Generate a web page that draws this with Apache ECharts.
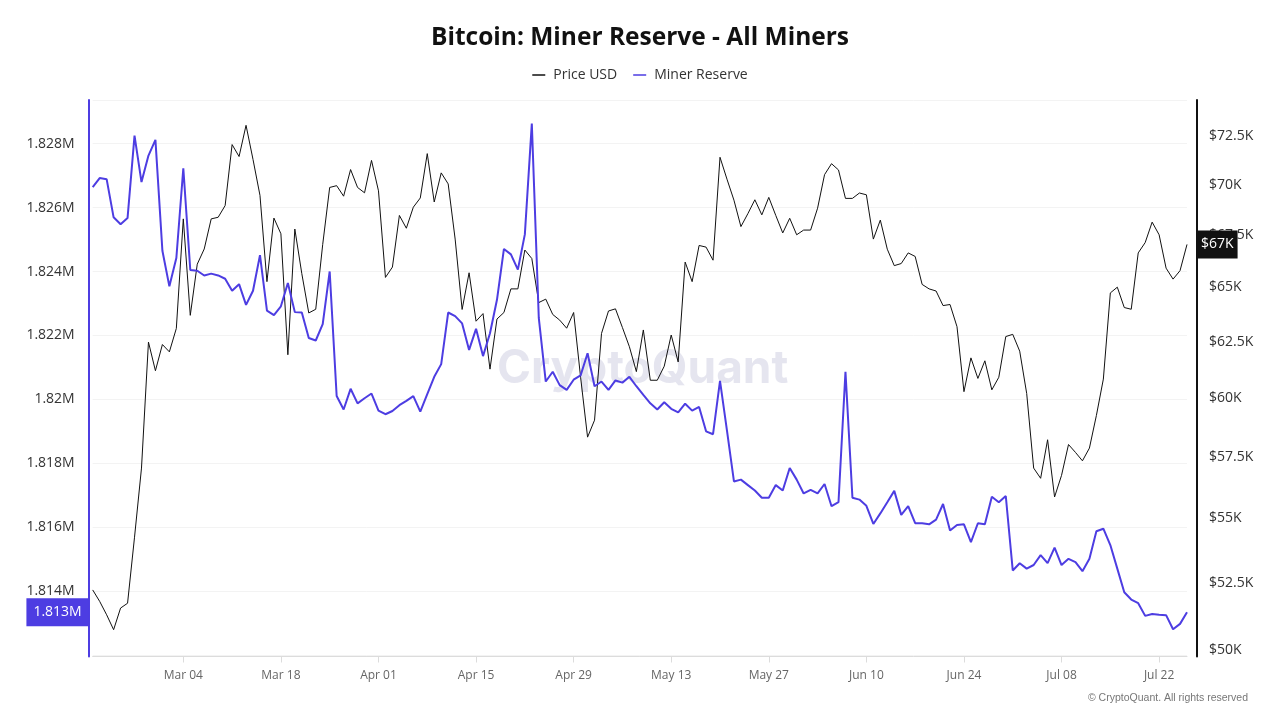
<!DOCTYPE html>
<html>
<head>
<meta charset="utf-8">
<script src="https://cdn.jsdelivr.net/npm/echarts@6/dist/echarts.min.js"></script>
<style>
html,body{margin:0;padding:0;background:#fff;}
#chart{width:1280px;height:720px;}
</style>
</head>
<body>
<div id="chart"></div>
<script>
// ---- data ----
const startDate = '2024-02-20';
const dayCount = 158;
const priceUSD = [52230, 51800, 51300, 50750, 51550, 51730, 54260, 57040, 62480, 61200,
  62370, 62040, 63100, 68300, 63700, 66100, 66830, 68300, 68380, 68960,
  72070, 71450, 73080, 71300, 69470, 65270, 68340, 67570, 61910, 67800,
  65650, 63810, 63980, 67050, 69870, 69960, 69430, 70780, 69870, 69600,
  71250, 69700, 65470, 65960, 68470, 67840, 68880, 69340, 71600, 69140,
  70610, 70050, 67310, 63970, 65690, 63430, 63780, 61270, 63530, 63830,
  64930, 64930, 66780, 66370, 64290, 64450, 63740, 63480, 63110, 63830,
  60910, 58330, 59050, 62870, 63900, 64000, 63140, 62270, 61160, 63030,
  60780, 60780, 61400, 62800, 61590, 66200, 65270, 67000, 66920, 66290,
  71410, 70290, 69230, 67920, 68560, 69250, 68500, 69370, 68470, 67610,
  68330, 67520, 67750, 67750, 68830, 70520, 71080, 70760, 69320, 69320,
  69590, 69500, 67310, 68240, 66820, 66030, 66130, 66640, 66470, 65140,
  64930, 64830, 64150, 64200, 63180, 60280, 61770, 60860, 61640, 60360,
  60910, 62730, 62830, 62070, 60200, 57040, 56620, 58220, 55860, 56740,
  58020, 57690, 57340, 57870, 59250, 60830, 64740, 65010, 64060, 63980,
  66640, 67140, 68140, 67520, 65910, 65390, 65790, 67050];
const minerReserve = [1826637, 1826921, 1826887, 1825695, 1825479, 1825672, 1828250, 1826796, 1827625, 1828114,
  1824650, 1823537, 1824422, 1827228, 1824048, 1824025, 1823877, 1823934, 1823877, 1823775,
  1823400, 1823605, 1822958, 1823400, 1824513, 1822776, 1822640, 1822912, 1823639, 1822731,
  1822719, 1821924, 1821844, 1822356, 1824002, 1820107, 1819687, 1820334, 1819880, 1820039,
  1820186, 1819653, 1819539, 1819641, 1819823, 1819959, 1820107, 1819619, 1820164, 1820709,
  1821106, 1822719, 1822605, 1822378, 1821549, 1822208, 1821356, 1822071, 1823116, 1824706,
  1824536, 1824059, 1825161, 1828625, 1822549, 1820561, 1820868, 1820448, 1820300, 1820618,
  1820754, 1821447, 1820414, 1820561, 1820300, 1820595, 1820527, 1820709, 1820414, 1820141,
  1819880, 1819687, 1819914, 1819710, 1819596, 1819869, 1819653, 1819766, 1819005, 1818914,
  1820584, 1819028, 1817438, 1817495, 1817324, 1817154, 1816927, 1816927, 1817324, 1817154,
  1817858, 1817495, 1817063, 1817177, 1817063, 1817358, 1816665, 1816790, 1820868, 1816927,
  1816870, 1816677, 1816109, 1816439, 1816790, 1817143, 1816393, 1816665, 1816132, 1816132,
  1816098, 1816245, 1816734, 1815905, 1816075, 1816098, 1815541, 1816132, 1816098, 1816961,
  1816790, 1816983, 1814656, 1814883, 1814712, 1814826, 1815133, 1814883, 1815371, 1814826,
  1815019, 1814917, 1814633, 1815019, 1815882, 1815961, 1815450, 1814712, 1813974, 1813747,
  1813633, 1813236, 1813293, 1813270, 1813259, 1812816, 1812986, 1813349];
const priceTicks = [50000, 52500, 55000, 57500, 60000, 62500, 65000, 67500, 70000, 72500];
const reserveTicks = [1814000, 1816000, 1818000, 1820000, 1822000, 1824000, 1826000, 1828000];
const reserveRange = [1811966, 1829362];
const priceRange = [49776, 74430];
const monthNames = ['Jan','Feb','Mar','Apr','May','Jun','Jul','Aug','Sep','Oct','Nov','Dec'];

// category dates (daily)
const dates = [];
const t0 = Date.parse(startDate + 'T00:00:00Z');
for (let i = 0; i < dayCount; i++) {
  dates.push(new Date(t0 + i * 86400000).toISOString().slice(0, 10));
}
const fmtDate = s => { const d = new Date(s + 'T00:00:00Z'); return monthNames[d.getUTCMonth()] + ' ' + String(d.getUTCDate()).padStart(2, '0'); };
const firstLabelIdx = 13, labelStep = 14;
const showIdx = i => (i - firstLabelIdx) % labelStep === 0 && i >= firstLabelIdx;

const log10 = Math.log10;
const priceLog = priceUSD.map(v => log10(v));
const lastPrice = priceUSD[priceUSD.length - 1];
const lastReserve = minerReserve[minerReserve.length - 1];

const FONT = '"Open Sans", "Noto Sans", sans-serif';
const BLUE = '#4d3de2';

const chart = echarts.init(document.getElementById('chart'), null, {renderer: 'canvas'});
chart.setOption({
  animation: false,
  backgroundColor: '#ffffff',
  textStyle: {fontFamily: FONT},
  title: {
    text: 'Bitcoin: Miner Reserve - All Miners',
    left: 'center', top: 21,
    textStyle: {fontSize: 24.5, fontWeight: 'bold', color: '#111', fontFamily: FONT}
  },
  legend: {
    top: 63, left: 'center',
    icon: 'rect', itemWidth: 13, itemHeight: 1.5, itemGap: 16,
    textStyle: {fontSize: 14, color: '#333', fontFamily: FONT, padding: [0, 0, 0, 3]},
    data: ['Price USD', 'Miner Reserve']
  },
  axisPointer: {triggerOn: 'none'},
  grid: {left: 92.7, right: 93, top: 100, bottom: 63.5, containLabel: false},
  xAxis: {
    type: 'category',
    data: dates,
    boundaryGap: false,
    axisLine: {lineStyle: {color: '#dcdcdc', width: 1}},
    axisTick: {show: true, interval: (i) => showIdx(i), length: 6, lineStyle: {color: '#dcdcdc'}},
    axisLabel: {interval: (i) => showIdx(i), formatter: v => fmtDate(v), color: '#666', fontSize: 12, margin: 13, fontFamily: FONT},
    splitLine: {show: false}
  },
  yAxis: [
    {
      type: 'value', position: 'left', offset: 4,
      min: reserveRange[0], max: reserveRange[1], splitNumber: 8,
      axisLine: {show: true, lineStyle: {color: BLUE, width: 2}},
      axisTick: {show: false},
      axisLabel: {color: '#333', fontSize: 14, margin: 14, fontFamily: FONT,
        customValues: reserveTicks,
        formatter: v => parseFloat((v / 1e6).toFixed(3)) + 'M'},
      splitLine: {show: true, lineStyle: {color: '#f3f3f3', width: 1}},
      axisPointer: {
        show: true, type: 'line', value: lastReserve, status: 'show', triggerTooltip: false,
        lineStyle: {opacity: 0, width: 0},
        label: {show: true, backgroundColor: BLUE, color: '#fff', fontSize: 14, margin: 0,
          padding: [7, 7, 7, 7], borderRadius: 0, fontFamily: FONT,
          formatter: p => (p.value / 1e6).toFixed(3) + 'M'}
      }
    },
    {
      type: 'value', position: 'right', offset: 10,
      min: log10(priceRange[0]), max: log10(priceRange[1]),
      axisLine: {show: true, lineStyle: {color: '#111', width: 2}},
      axisTick: {show: false},
      axisLabel: {color: '#333', fontSize: 14, margin: 12, fontFamily: FONT,
        customValues: priceTicks.map(v => log10(v)),
        formatter: v => '$' + parseFloat((Math.pow(10, v) / 1000).toFixed(1)) + 'K'},
      splitLine: {show: false},
      axisPointer: {
        show: true, type: 'line', value: log10(lastPrice), status: 'show', triggerTooltip: false,
        lineStyle: {opacity: 0, width: 0},
        label: {show: true, backgroundColor: '#111', color: '#fff', fontSize: 14, margin: 0,
          padding: [7, 4, 7, 4], borderRadius: 0, fontFamily: FONT,
          formatter: p => '$' + Math.round(Math.pow(10, p.value) / 1000) + 'K'}
      }
    }
  ],
  graphic: [
    {type: 'text', left: 497, top: 346, z: -10, silent: true,
      style: {text: 'CryptoQuant', fontSize: 46, fontWeight: 'bold', fontFamily: '"Inter", "Open Sans", sans-serif', fill: 'rgba(208,208,225,0.55)'}},
    {type: 'text', right: 32, top: 693, silent: true,
      style: {text: '\u00a9 CryptoQuant. All rights reserved', fontSize: 10.5, fontFamily: '"Liberation Sans", Arial, sans-serif', fill: '#777'}}
  ],
  series: [
    {
      name: 'Price USD', type: 'line', yAxisIndex: 1, data: priceLog,
      symbol: 'none', color: '#111', lineStyle: {width: 1, color: '#111'}, z: 2
    },
    {
      name: 'Miner Reserve', type: 'line', yAxisIndex: 0, data: minerReserve,
      symbol: 'none', color: BLUE, lineStyle: {width: 2, color: BLUE}, z: 3
    }
  ]
});
</script>
</body>
</html>
